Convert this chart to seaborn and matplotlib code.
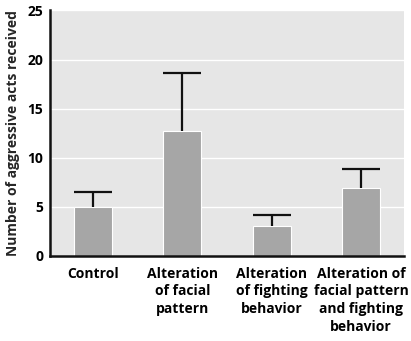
import matplotlib
matplotlib.use("Agg")
import matplotlib.pyplot as plt
import seaborn as sns
import numpy as np
import pandas as pd

categories = ["Control", "Alteration\nof facial\npattern", "Alteration\nof fighting\nbehavior",
              "Alteration of\nfacial pattern\nand fighting\nbehavior"]
means = [4.95, 12.75, 3.05, 6.9]
upper = [6.5, 18.65, 4.15, 8.85]
yticks = [0, 5, 10, 15, 20, 25]

sns.set_theme(style="darkgrid")
plt.rcParams['font.family'] = ['Open Sans', 'DejaVu Sans']
plt.rcParams['font.weight'] = 'bold'

fig = plt.figure(figsize=(4.11, 3.41), dpi=100)
ax = fig.add_axes([50/411, (341-255.5)/341, 354/411, 245/341])
ax.set_facecolor("#e6e6e6")

df = pd.DataFrame({"cat": categories, "val": means})
sns.barplot(data=df, x="cat", y="val", color="#a6a6a6", saturation=1, width=0.425,
            edgecolor="white", linewidth=0.8, ax=ax, zorder=2)

x = np.arange(len(categories))
err = np.array(upper) - np.array(means)
_, caps, bars = ax.errorbar(x, means, yerr=[np.zeros_like(err), err], fmt='none',
                            ecolor='#111111', elinewidth=1.6, capsize=13.7, capthick=1.6, zorder=3)
if len(caps) == 2:
    caps[0].set_visible(False)

ax.set_xlim(-0.48, 3.48)
ax.set_ylim(0, 25)
ax.set_yticks(yticks)
ax.set_yticklabels([str(t) for t in yticks], fontsize=10, fontweight='bold')
ax.set_xticks(x)
ax.set_xticklabels(categories, fontsize=10, fontweight='bold', linespacing=1.35, va='top')
ax.tick_params(axis='both', length=0, colors='black')
ax.tick_params(axis='x', pad=8)
ax.tick_params(axis='y', pad=5)
ax.grid(axis='y', color='white', linewidth=1.0)
ax.grid(axis='x', visible=False)
ax.set_axisbelow(True)
ax.set_xlabel("")
ax.set_ylabel("Number of aggressive acts received", fontsize=10, fontweight='bold', labelpad=5)

for s in ['top', 'right']:
    ax.spines[s].set_visible(False)
for s in ['left', 'bottom']:
    ax.spines[s].set_visible(True)
    ax.spines[s].set_color('#111111')
    ax.spines[s].set_linewidth(1.8)

fig.savefig("out.png", dpi=100, facecolor="white")
